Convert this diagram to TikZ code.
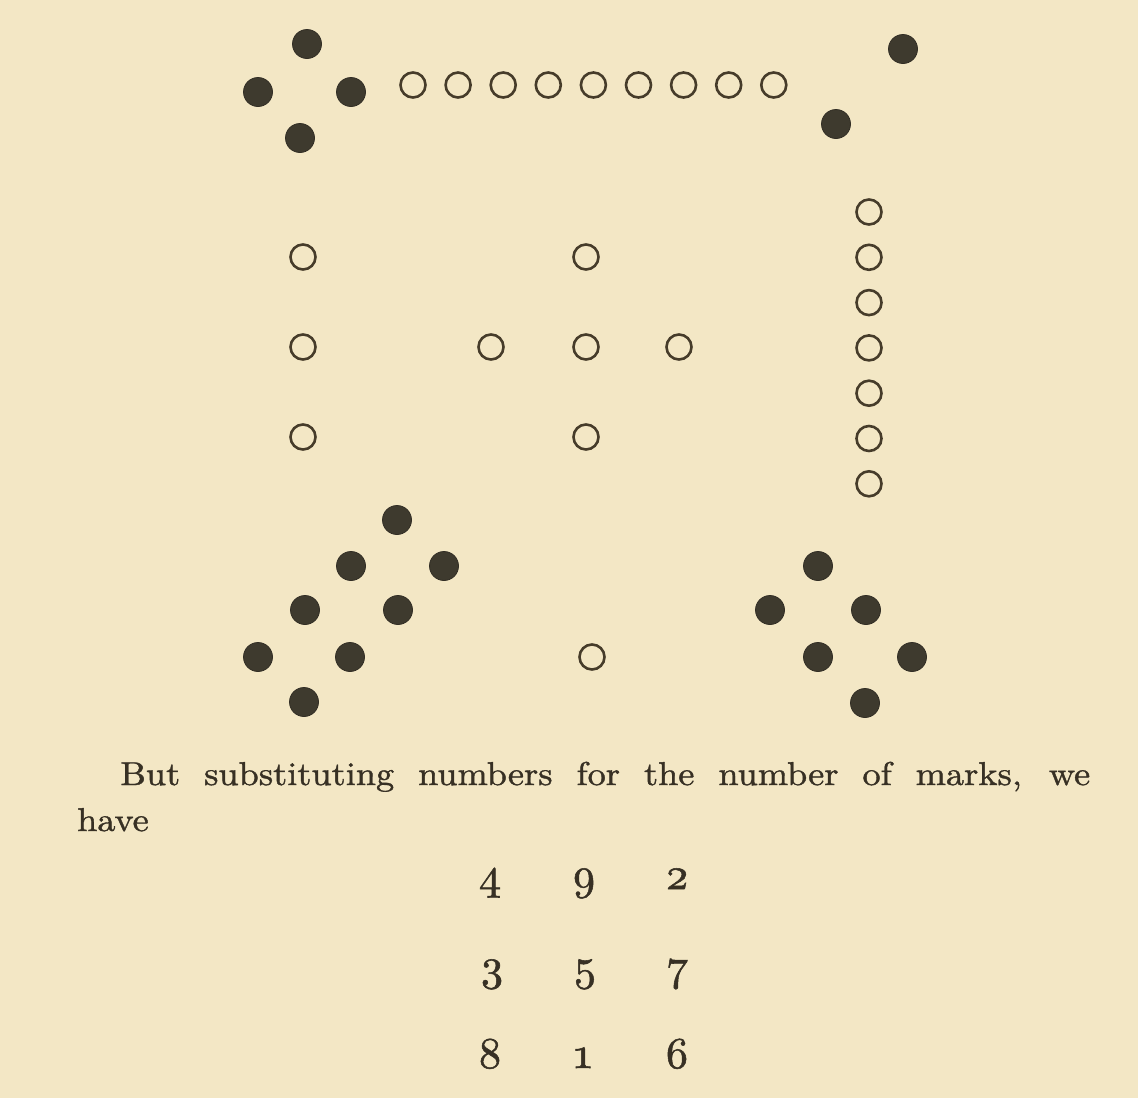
\documentclass[tikz,border=0pt]{standalone}
\usepackage{fontspec}
\setmainfont{Latin Modern Roman}
\newfontfamily\bodyfont{lmroman10-regular.otf}[FakeStretch=1.1, FakeBold=1.2]
\newfontfamily\numfont{lmroman10-regular.otf}[Numbers=OldStyle, FakeBold=1.2]
\definecolor{paper}{RGB}{243,231,197}
\definecolor{ink}{RGB}{55,48,36}
\definecolor{dotfill}{RGB}{62,58,46}
\definecolor{ringc}{RGB}{70,60,42}
\tikzset{
  black dot/.style={circle, fill=dotfill, draw=dotfill!80!black, line width=0.8pt, minimum size=29pt, inner sep=0pt},
  white dot/.style={circle, draw=ringc, line width=2.6pt, minimum size=25pt, inner sep=0pt},
  numtext/.style={anchor=base, inner sep=0pt, text=ink, font=\numfont\fontsize{44}{50}\selectfont},
  bodytext/.style={anchor=base west, inner sep=0pt, text=ink, font=\bodyfont\fontsize{33}{40}\selectfont}
}
\begin{document}
\begin{tikzpicture}[x=1pt,y=-1pt]
\fill[paper] (0,0) rectangle (1138,1098);
\useasboundingbox (0,0) rectangle (1138,1098);
% 4 : top-left
\node[black dot] (a1) at (307,44) {};
\node[black dot] (a2) at (258,92) {};
\node[black dot] (a3) at (351,92) {};
\node[black dot] (a4) at (300,138) {};
% 9 : top row
\foreach \i in {0,...,8} \node[white dot] (b\i) at ({413+45.1*\i},85) {};
% 2 : top-right
\node[black dot] (c1) at (903,49) {};
\node[black dot] (c2) at (836,124) {};
% 3 : left column
\node[white dot] (d1) at (303,257) {};
\node[white dot] (d2) at (303,347) {};
\node[white dot] (d3) at (303,437) {};
% 5 : centre
\node[white dot] (e1) at (586,257) {};
\node[white dot] (e2) at (491,347) {};
\node[white dot] (e3) at (586,347) {};
\node[white dot] (e4) at (679,347) {};
\node[white dot] (e5) at (586,437) {};
% 7 : right column
\foreach \i in {0,...,6} \node[white dot] (f\i) at (869,{212+45.3*\i}) {};
% 8 : bottom-left
\node[black dot] (g1) at (397,520) {};
\node[black dot] (g2) at (351,566) {};
\node[black dot] (g3) at (444,566) {};
\node[black dot] (g4) at (305,610) {};
\node[black dot] (g5) at (398,610) {};
\node[black dot] (g6) at (258,657) {};
\node[black dot] (g7) at (350,657) {};
\node[black dot] (g8) at (304,702) {};
% 1 : bottom centre
\node[white dot] (h1) at (592,657) {};
% 6 : bottom-right
\node[black dot] (i1) at (818,566) {};
\node[black dot] (i2) at (770,610) {};
\node[black dot] (i3) at (866,610) {};
\node[black dot] (i4) at (818,657) {};
\node[black dot] (i5) at (912,657) {};
\node[black dot] (i6) at (865,703) {};
% text
\node[bodytext] (line1) at (120,785) {\makebox[970pt][s]{But substituting numbers for the number of marks, we}};
\node[bodytext] (line2) at (77,831) {have};
% magic square
\node[numtext] (n4) at (490,889) {4};
\node[numtext] (n9) at (584,889) {9};
\node[numtext] (n2) at (677,889) {2};
\node[numtext] (n3) at (492,980) {3};
\node[numtext] (n5) at (585,980) {5};
\node[numtext] (n7) at (678,980) {7};
\node[numtext] (n8) at (490,1068) {8};
\node[numtext] (n1) at (583,1068) {1};
\node[numtext] (n6) at (677,1068) {6};
\end{tikzpicture}
\end{document}
